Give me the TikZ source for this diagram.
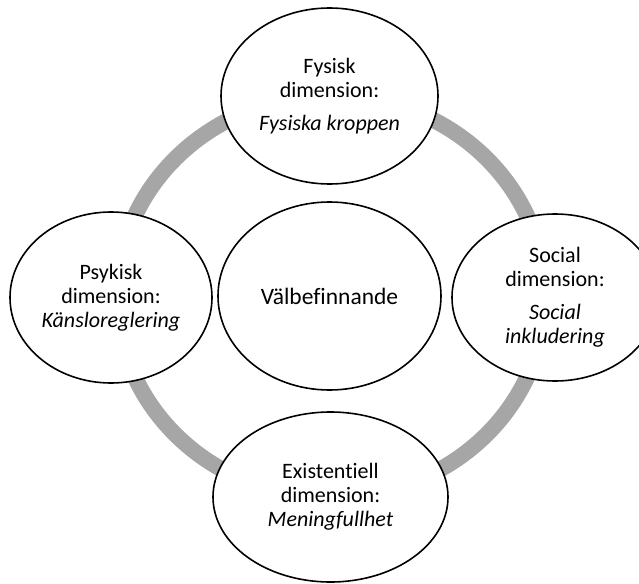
\documentclass[tikz,border=0pt]{standalone}
\usepackage{fontspec}
\setmainfont{Carlito}[Ligatures=NoCommon]
\usetikzlibrary{shapes.geometric}
\definecolor{ringgray}{HTML}{A6A6A6}
\tikzset{
  dimbox/.style={ellipse,draw=black,line width=1.6pt,fill=white,align=center,
    inner sep=0pt,font=\fontsize{22}{24}\selectfont},
  corebox/.style={dimbox,font=\fontsize{23.5}{28}\selectfont},
  ring/.style={draw=ringgray,line width=16pt}
}

\begin{document}
\begin{tikzpicture}[x=1pt,y=-1pt]
  \clip (0,0) rectangle (639,583);
  \draw[ring] (331,296.5) ellipse [x radius=214pt,y radius=201pt];
  \node[corebox,minimum width=223pt,minimum height=188pt] (core) at (329.5,296) {Välbefinnande};
  \node[dimbox,minimum width=217pt,minimum height=176pt] (fysisk) at (329.5,96)
    {Fysisk\\dimension:\\[9pt]\textit{Fysiska kroppen}};
  \node[dimbox,minimum width=202pt,minimum height=171pt] (psykisk) at (111,297.5)
    {Psykisk\\dimension:\\\textit{Känsloreglering}};
  \node[dimbox,minimum width=206pt,minimum height=167pt] (social) at (555,297.5)
    {Social\\dimension:\\[9pt]\textit{Social}\\\textit{inkludering}};
  \node[dimbox,minimum width=235pt,minimum height=170pt] (exist) at (330.5,497)
    {Existentiell\\dimension:\\\textit{Meningfullhet}};
\end{tikzpicture}
\end{document}
